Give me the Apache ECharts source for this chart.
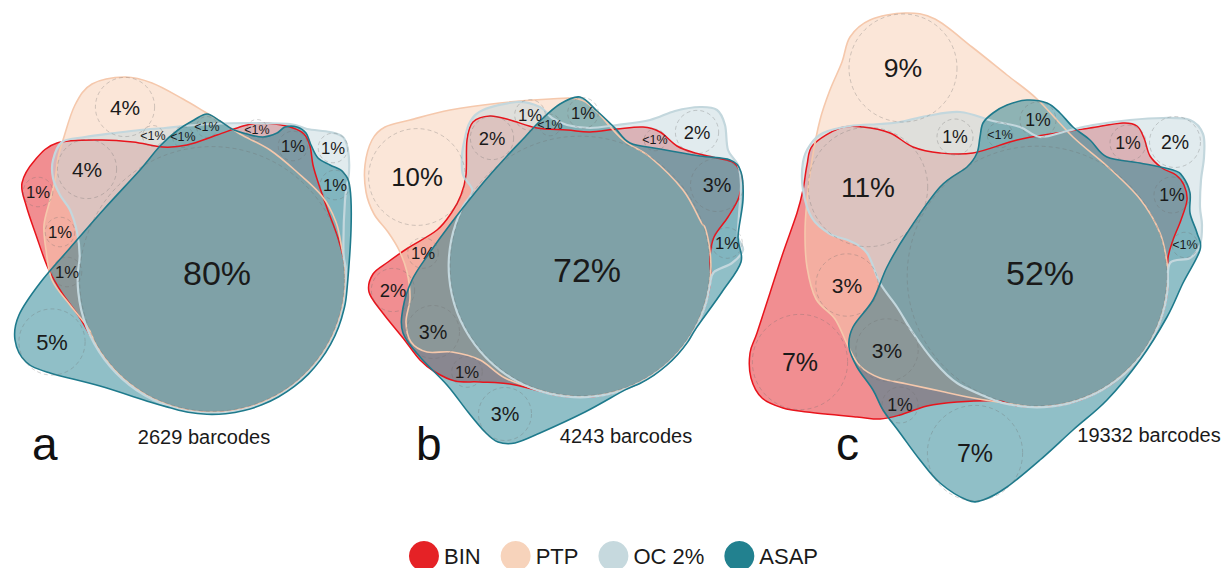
<!DOCTYPE html>
<html><head><meta charset="utf-8">
<script src="https://cdn.jsdelivr.net/npm/echarts@6/dist/echarts.min.js"></script>
<style>html,body{margin:0;padding:0;background:#fff}#chart{width:1227px;height:568px}</style>
</head><body><div id="chart"></div>
<script>
// ---------------- data ----------------
const setNames = ['BIN', 'PTP', 'OC 2%', 'ASAP'];
const panelLetters = ['a', 'b', 'c'];
const barcodeCounts = [2629, 4243, 19332];
// percentage of barcodes in each Euler region (first = shared by all four methods)
const regionLabelsA = ['80%','4%','4%','1%','1%','1%','5%','<1%','<1%','<1%','<1%','1%','1%','1%'];
const regionLabelsB = ['72%','10%','2%','1%','<1%','1%','<1%','2%','3%','1%','1%','2%','3%','1%','3%'];
const regionLabelsC = ['52%','9%','11%','1%','<1%','1%','1%','2%','1%','<1%','3%','7%','3%','1%','7%'];
const regionLabels = [regionLabelsA, regionLabelsB, regionLabelsC];

// ---------------- layout (diagram geometry, in layout units) ----------------
const regionCentersA = [[212,279],[125,107],[87,169],[38,192],[60,232],[67,272],[52,342],[153,136],[183,137],[207,127],[257,130],[293,146],[333,148],[335,185]];
const regionCentersB = [[580,266],[417,177],[492,138],[530,115],[550,125],[583,113],[655,140],[697,132],[717,185],[727,243],[423,253],[393,290],[433,332],[467,372],[505,414]];
const regionCentersC = [[1037,276],[903,68],[868,187],[955,137],[1000,135],[1038,120],[1128,143],[1175,142],[1172,195],[1185,245],[847,285],[800,362],[887,350],[900,405],[975,453]];
const regionCenters = [regionCentersA, regionCentersB, regionCentersC];
const centralLabelNudge = [[5,-6],[7,4],[3,-3]];
const radiusScale = [14.8, 15.3, 18.0];
const panelFontScale = [1, 1, 1.06];
const letterAnchors = [[32,467],[416,467],[836,467]];
const countAnchors = [[204,447],[626,446],[1149,445]];

// set outlines: control points; ['arc', fromDeg, toDeg, pad] follows the panel's central circle
const outlines = [
  { // panel a
    BIN: [[57,143],[100,140],[133,142],[163,147],[187,145],[217,135],[243,126],[258,123],[275,124],[293,128],[304,134],[310,146],[313,165],[318,182],[327,208],[338,238],['arc',-5,149,1.5],[80,318],[62,293],[48,268],[36,235],[26,205],[22,183],[35,160]],
    PTP: [[63,140],[75,105],[92,84],[125,77],[152,83],[183,99],[205,112],[220,121],[240,134],[270,150],[297,172],[322,196],[336,222],['arc',-13,159,1],[70,305],[52,280],[46,250],[44,225],[50,200],[55,180],[58,158]],
    OC: [[53,160],[62,142],[85,137],[115,133],[140,130],[165,128],[183,126],[210,124],[250,123],[290,124],[307,129],[330,132],[343,137],[348,150],[349,172],[345,200],['arc',-12,190,2],[77,232],[70,210],[60,195],[53,178]],
    ASAP: [[207,114],[220,121],[232,129],[247,134],[263,137],[277,133],[285,127],[297,127],[306,133],[311,145],[318,158],[330,165],[343,172],[350,188],[351,230],['arc',5,108,3],[150,402],[100,386],[50,373],[26,362],[15,340],[19,315],[40,283],[70,248],[105,208],[140,170],[160,146],[178,130],[194,120]]
  },
  { // panel b
    BIN: [[467,140],[473,122],[490,116],[510,120],[537,128],[567,130],[590,132],[617,129],[643,127],[660,132],[677,146],[695,153],[717,158],[734,163],[741,177],[739,197],[728,217],[714,237],[710,257],['arc',5,108,1.5],[510,384],[480,382],[455,381],[435,372],[420,360],[403,338],[382,312],[369,292],[373,274],[388,262],[408,248],[437,230],[452,212],[461,195],[466,175]],
    PTP: [[365,165],[372,140],[385,127],[410,120],[450,110],[500,103],[550,99],[578,99],[595,110],[623,140],[650,157],[683,190],[701,222],['arc',-17,108,1],[505,378],[480,360],[452,352],[427,352],[411,342],[406,322],[410,298],[407,272],[399,250],[388,232],[374,214],[366,192]],
    OC: [[465,138],[470,122],[483,110],[517,102],[540,107],[552,118],[567,125],[590,128],[617,125],[650,120],[675,111],[700,107],[717,110],[725,125],[728,150],[738,165],[741,185],[739,215],[738,237],[743,250],[732,263],[714,272],['arc',8,215,1.5],[463,175],[462,155]],
    ASAP: [[580,97],[597,111],[615,128],[630,143],[660,149],[700,156],[730,160],[741,172],[743,200],[738,237],[741,262],[722,292],['arc',28,70,2],[585,412],[540,433],[515,443],[498,442],[485,432],[468,412],[447,385],[420,357],[403,333],[403,308],[412,280],[428,255],[452,222],[483,183],[507,156],[525,137],[540,121],[560,104]]
  },
  { // panel c
    BIN: [[813,145],[840,128],[863,127],[890,133],[913,147],[940,153],[973,153],[1017,140],[1057,133],[1090,128],[1123,123],[1137,126],[1144,138],[1150,156],[1162,168],[1176,175],[1184,185],[1187,200],[1181,220],[1173,240],[1168,258],['arc',2,108,1.5],[957,402],[927,406],[900,415],[880,419],[857,417],[807,412],[783,408],[762,398],[751,378],[750,353],[757,333],[770,293],[783,253],[797,213],[803,190],[807,165]],
    PTP: [[842,62],[850,37],[870,20],[905,13],[935,19],[972,47],[1007,75],[1037,99],[1073,137],[1107,166],[1140,199],[1160,233],['arc',-5,103,1],[973,398],[940,391],[907,384],[880,378],[860,366],[848,346],[835,319],[816,299],[807,267],[805,233],[807,200],[812,160],[820,120],[830,90]],
    OC: [[880,283],[867,253],[850,241],[830,234],[812,218],[803,190],[803,162],[810,145],[823,133],[850,126],[880,124],[900,122],[927,116],[960,112],[993,121],[1020,127],[1040,137],[1067,131],[1093,125],[1130,120],[1163,118],[1190,120],[1203,134],[1204,157],[1201,180],[1200,207],[1202,225],[1200,245],[1190,258],[1170,263],['arc',5,108,1.5],[957,383],[933,360],[913,333],[897,307]],
    ASAP: [[1027,100],[1007,105],[993,113],[983,123],[980,137],[977,153],[967,167],[940,187],[907,233],[887,267],[873,300],[853,327],[849,347],[857,367],[873,390],[883,410],[900,433],[920,460],[940,483],[967,500],[983,500],[1007,487],[1040,460],[1073,430],[1107,400],[1140,360],[1167,317],[1183,283],[1200,250],[1197,233],[1190,213],[1190,193],[1183,177],[1173,170],[1140,163],[1107,157],[1090,140],[1073,127],[1060,113],[1047,103]]
  }
];

// ---------------- styles ----------------
const setKeys = ['BIN', 'PTP', 'OC', 'ASAP'];
const setFill = ['rgba(227,30,36,0.5)', 'rgba(248,206,178,0.5)', 'rgba(196,216,222,0.5)', 'rgba(34,128,143,0.5)'];
const setStroke = ['#E8141C', '#F5C8AC', '#C3D7DD', '#1E7A8C'];
const setStrokeW = [1.5, 1.6, 2.2, 1.6];
const legendColors = ['#E52226', '#F7D3BB', '#C6D9DE', '#22818F'];
const FONT = "'Liberation Sans', Arial, Helvetica, sans-serif";

function labelValue(s) { return s.indexOf('<') === 0 ? 0.5 : parseFloat(s); }
function regionRadius(p, i) { return radiusScale[p] * Math.sqrt(labelValue(regionLabels[p][i])); }

function expandOutline(p, list) {
  const c = regionCenters[p][0], r0 = regionRadius(p, 0);
  const out = [];
  list.forEach(function (pt) {
    if (pt[0] === 'arc') {
      const a0 = pt[1], a1 = pt[2], r = r0 + pt[3];
      const n = Math.max(2, Math.ceil(Math.abs(a1 - a0) / 8));
      for (let k = 0; k <= n; k++) {
        const a = (a0 + (a1 - a0) * k / n) * Math.PI / 180;
        out.push([c[0] + r * Math.cos(a), c[1] + r * Math.sin(a)]);
      }
    } else out.push(pt);
  });
  return out;
}
function smoothClosedPath(pts) {
  const n = pts.length, f = function (v) { return v.toFixed(2); };
  let d = 'M' + f(pts[0][0]) + ' ' + f(pts[0][1]);
  for (let i = 0; i < n; i++) {
    const p0 = pts[(i - 1 + n) % n], p1 = pts[i], p2 = pts[(i + 1) % n], p3 = pts[(i + 2) % n];
    const c1 = [p1[0] + (p2[0] - p0[0]) / 6, p1[1] + (p2[1] - p0[1]) / 6];
    const c2 = [p2[0] - (p3[0] - p1[0]) / 6, p2[1] - (p3[1] - p1[1]) / 6];
    d += ' C' + f(c1[0]) + ' ' + f(c1[1]) + ' ' + f(c2[0]) + ' ' + f(c2[1]) + ' ' + f(p2[0]) + ' ' + f(p2[1]);
  }
  return d + ' Z';
}

// pass: 'fill' draws the translucent areas, 'stroke' draws the outlines on top
function setSeries(si, pass) {
  return {
    type: 'custom', name: setNames[si], coordinateSystem: 'cartesian2d',
    itemStyle: { color: legendColors[si] },
    data: panelLetters.map(function (l, p) { return [p]; }),
    encode: { x: -1, y: -1 }, silent: true,
    renderItem: function (params, api) {
      const p = params.dataIndex;
      const pts = expandOutline(p, outlines[p][setKeys[si]]).map(function (q) { return api.coord(q); });
      const style = pass === 'fill'
        ? { fill: setFill[si], stroke: 'none' }
        : { fill: 'none', stroke: setStroke[si], lineWidth: setStrokeW[si], lineJoin: 'round' };
      return { type: 'path', shape: { pathData: smoothClosedPath(pts) }, style: style };
    }
  };
}

// flatten region items
const regionItems = [];
regionLabels.forEach(function (labs, p) {
  labs.forEach(function (lab, i) { regionItems.push([regionCenters[p][i][0], regionCenters[p][i][1], p, i]); });
});

function fontSizeFor(v, p) { return v >= 50 ? 34 : (v < 1 ? 12.5 : (12.5 + 4.2 * Math.sqrt(v)) * panelFontScale[p]); }

const option = {
  animation: false,
  backgroundColor: '#ffffff',
  grid: { left: 0, right: 0, top: 0, bottom: 0 },
  xAxis: { type: 'value', min: 0, max: 1227, show: false },
  yAxis: { type: 'value', min: 0, max: 568, inverse: true, show: false },
  legend: {
    data: setNames.map(function (n, i) { return { name: n, icon: 'circle', itemStyle: { color: legendColors[i] } }; }),
    left: 'center', top: 536, itemWidth: 30, itemHeight: 30, itemGap: 20,
    textStyle: { fontSize: 22, color: '#1a1a1a', fontFamily: FONT }, selectedMode: false
  },
  series: [
    setSeries(0, 'fill'), setSeries(1, 'fill'), setSeries(2, 'fill'), setSeries(3, 'fill'),
    setSeries(0, 'stroke'), setSeries(1, 'stroke'), setSeries(2, 'stroke'), setSeries(3, 'stroke'),
    {
      type: 'custom', name: 'regions', coordinateSystem: 'cartesian2d', data: regionItems,
      encode: { x: 0, y: 1 }, silent: true,
      renderItem: function (params, api) {
        const p = api.value(2), i = api.value(3);
        const pt = api.coord([api.value(0), api.value(1)]);
        const lab = regionLabels[p][i], v = labelValue(lab);
        const r = api.size([regionRadius(p, i), 0])[0];
        const nudge = i === 0 ? centralLabelNudge[p] : [0, 0];
        return {
          type: 'group', children: [
            { type: 'circle', shape: { cx: pt[0], cy: pt[1], r: r },
              style: { fill: 'none', stroke: 'rgba(110,110,110,0.4)', lineWidth: 0.8, lineDash: [4, 3] } },
            { type: 'text', x: pt[0] + nudge[0], y: pt[1] + nudge[1],
              style: { text: lab, fill: '#1a1a1a', font: fontSizeFor(v, p).toFixed(1) + 'px ' + FONT, align: 'center', verticalAlign: 'middle' } }
          ]
        };
      }
    },
    {
      type: 'custom', name: 'panels', coordinateSystem: 'cartesian2d',
      data: panelLetters.map(function (l, p) { return [countAnchors[p][0], countAnchors[p][1], p]; }),
      encode: { x: 0, y: 1 }, silent: true,
      renderItem: function (params, api) {
        const p = api.value(2);
        const lp = api.coord(letterAnchors[p]);
        const cp = api.coord([api.value(0), api.value(1)]);
        return {
          type: 'group', children: [
            { type: 'text', x: lp[0], y: lp[1], style: { text: panelLetters[p], fill: '#111', font: '46px ' + FONT, align: 'left', verticalAlign: 'bottom' } },
            { type: 'text', x: cp[0], y: cp[1], style: { text: barcodeCounts[p] + ' barcodes', fill: '#1a1a1a', font: '20px ' + FONT, align: 'center', verticalAlign: 'bottom' } }
          ]
        };
      }
    }
  ]
};
const chart = echarts.init(document.getElementById('chart'), null, { renderer: 'svg' });
chart.setOption(option);
</script>
</body></html>
